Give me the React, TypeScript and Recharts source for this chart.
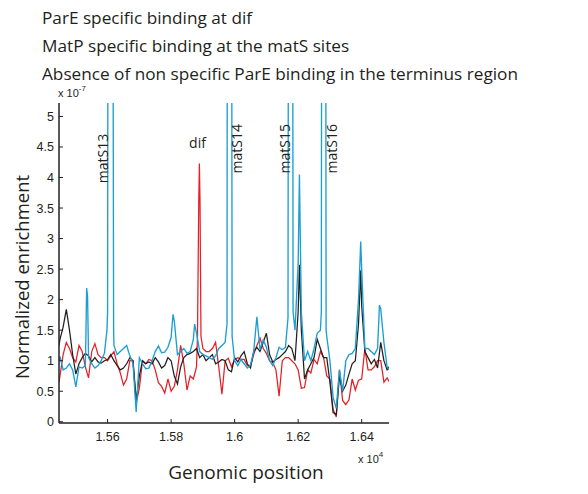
import React from 'react';
import { LineChart, Line, XAxis, YAxis, ReferenceDot } from 'recharts';

// genomic positions (x 10^4) sampled across the window
const positions = [
  1.5447,
  1.545, 1.546, 1.547, 1.548, 1.549, 1.55, 1.551, 1.552, 1.553, 1.554,
  1.555, 1.556, 1.557, 1.558, 1.559, 1.56, 1.561, 1.562, 1.563, 1.564,
  1.565, 1.566, 1.567, 1.568, 1.569, 1.57, 1.571, 1.572, 1.573, 1.574,
  1.575, 1.576, 1.577, 1.578, 1.579, 1.58, 1.581, 1.582, 1.583, 1.584,
  1.585, 1.586, 1.587, 1.588, 1.589, 1.59, 1.591, 1.592, 1.593, 1.594,
  1.595, 1.596, 1.597, 1.598, 1.599, 1.6, 1.601, 1.602, 1.603, 1.604,
  1.605, 1.606, 1.607, 1.608, 1.609, 1.61, 1.611, 1.612, 1.613, 1.614,
  1.615, 1.616, 1.617, 1.618, 1.619, 1.62, 1.621, 1.622, 1.623, 1.624,
  1.625, 1.626, 1.627, 1.628, 1.629, 1.63, 1.631, 1.632, 1.633, 1.634,
  1.635, 1.636, 1.637, 1.638, 1.639, 1.64, 1.641, 1.642, 1.643, 1.644,
  1.645, 1.646, 1.647, 1.648,
  1.6486,
];

// red trace (x 10^-7), null = sample hidden inside a peak listed below
const parEDif = [
  0.65,
  0.75, 1.1, 1.3, 1.2, 1.05, 0.98, 1.25, 1.15, 0.9, 0.72,
  1.15, 1.28, 1.1, 1.05, 1.05, 1.0, 1.08, 1.15, 0.95, 0.8,
  0.6, 0.7, 1.0, 1.0, 0.3, 0.55, 1.0, 0.95, 1.02, 1.0,
  0.85, 0.64, 0.58, 0.47, 0.7, 0.5, 0.58, 0.85, 1.25, 0.95,
  0.52, 0.75, 0.7, 0.9, null, 1.2, 1.15, 1.15, 1.2, 1.3,
  0.9, 0.45, 1.0, 1.04, 0.9, 1.02, 1.05, 1.02, 1.02, 0.92,
  0.92, 1.1, 1.25, 1.37, 1.2, 1.12, 1.0, 0.97, 0.85, 0.42,
  1.0, 1.05, 1.05, 1.0, 0.95, 0.85, 0.55, 0.56, 0.85, 0.8,
  1.02, 0.95, 1.15, 1.05, 0.75, 0.7, 0.2, 0.08, 0.85, 0.35,
  0.28, 0.36, 0.7, 0.52, 0.68, 0.7, 1.2, 0.85, 0.85, 0.9,
  1.0, 1.0, 0.65, 0.72,
  0.66,
];

// black trace
const parENonSpecific = [
  1.25,
  1.35, 1.55, 1.84, 1.5, 1.1, 0.78, 0.95, 1.05, 1.12, 1.08,
  0.98, 1.05, 0.98, 0.96, 1.0, 1.02, 1.1, 1.0, 0.92, 0.85,
  0.88, 0.95, 1.05, 1.0, 0.35, 0.75, 1.0, 0.95, 0.98, 0.95,
  1.05, 0.98, 0.88, 0.92, 1.05, 1.0, 0.75, 0.62, 0.9, 1.05,
  1.1, 1.12, 1.15, 1.2, 1.05, 1.1, 1.0, 1.05, 1.1, 0.95,
  0.98, 1.02, 1.0, 0.85, 0.82, 1.05, 0.98, 1.08, 1.15, 0.95,
  0.88, 1.15, 1.22, 1.15, 1.3, 1.45, 1.1, 0.98, 1.02, 1.05,
  1.1, 1.15, 1.25, 1.2, 1.0, 1.8, 1.5, 0.7, 0.85, 0.95,
  1.05, 1.35, 1.2, 1.05, 1.05, 0.65, 0.15, 0.12, 0.75, 0.5,
  0.6, 0.78, 0.95, 1.0, 1.6, 1.9, 1.15, 1.05, 0.95, 1.02,
  0.88, 1.3, 1.0, 0.85,
  0.9,
];

// blue trace
const matP = [
  1.0,
  1.07, 0.85, 0.88, 0.95, 0.85, 0.57, 0.9, 0.88, 0.92, 1.05,
  0.95, 0.88, 0.92, 1.0, 1.12, null, null, 1.25, 1.1, 1.15,
  1.2, 1.25, 1.08, 0.95, 0.16, 1.05, 0.95, 0.87, 0.88, 1.0,
  1.15, 1.24, 1.13, 1.14, 1.22, 1.38, 1.65, 1.1, 1.15, 1.2,
  1.12, 1.15, 1.35, 1.45, 1.15, 1.1, 1.08, 1.05, 1.02, 1.08,
  1.2, 1.25, 1.3, null, null, 1.0, 0.92, 1.02, 0.95, 0.88,
  0.93, 1.15, 1.72, 1.18, 1.34, 1.22, 1.0, 0.92, 1.05, 1.22,
  1.18, 1.22, null, null, 1.5, 2.6, 1.8, 1.0, 1.15, 1.0,
  1.2, 1.45, 1.5, null, 1.4, 1.0, 0.4, 0.22, 0.85, 0.5,
  1.0, 1.1, 1.12, 1.2, 2.0, 2.5, 1.2, 1.2, 1.15, 1.1,
  1.2, 1.85, 1.3, 0.9,
  0.85,
];

// narrow peaks between the samples: [position, enrichment]
const parEDifPeaks = [
  [1.5883, 1.4], [1.5887, 3.6], [1.5889, 4.23], [1.5891, 3.6], [1.5894, 1.4],
];
const parENonSpecificPeaks = [
  [1.6204, 2.57], [1.6397, 2.48],
];
const matPPeaks = [
  [1.5532, 1.5], [1.5534, 2.19], [1.5537, 2.05],
  [1.5598, 1.5], [1.56, 1.8], [1.5604, 20], [1.5612, 20], [1.5619, 1.5],
  [1.5806, 1.76], [1.5874, 1.6],
  [1.5976, 1.6], [1.5979, 20], [1.5988, 20], [1.5992, 1.4],
  [1.6168, 1.7], [1.6172, 20], [1.618, 20], [1.6184, 1.8],
  [1.6204, 4.05],
  [1.6273, 1.8], [1.6276, 20], [1.6284, 20], [1.6288, 1.5],
  [1.6397, 2.95], [1.6456, 1.91],
];

const xTicks = [1.56, 1.58, 1.6, 1.62, 1.64];
const yTicks = [0, 0.5, 1, 1.5, 2, 2.5, 3, 3.5, 4, 4.5, 5];

const titleLines = [
  'ParE specific binding at dif',
  'MatP specific binding at the matS sites',
  'Absence of non specific ParE binding in the terminus region',
];

const siteLabels = [
  { text: 'matS13', x: 1.5586, y: 4.31, vertical: true },
  { text: 'dif', x: 1.5883, y: 4.57, vertical: false },
  { text: 'matS14', x: 1.6008, y: 4.47, vertical: true },
  { text: 'matS15', x: 1.6159, y: 4.47, vertical: true },
  { text: 'matS16', x: 1.6307, y: 4.47, vertical: true },
];

const buildSeries = (values: (number | null)[], peaks: number[][]) =>
  positions
    .map((x, i) => ({ x, y: values[i] }))
    .filter((p) => p.y !== null)
    .concat(peaks.map(([x, y]) => ({ x, y })))
    .sort((a, b) => a.x - b.x);

const INK = '#231f20';
const SANS = '"Open Sans", "Noto Sans", sans-serif';
const TICK_FONT = '"Liberation Sans", Arial, Helvetica, sans-serif';
const X_DOMAIN: [number, number] = [1.5447, 1.6486];
const Y_DOMAIN: [number, number] = [-0.02, 5.22];

const LeftTick = ({ x, y, payload }: any) => (
  <g>
    <line x1={x} y1={y} x2={x + 4} y2={y} stroke={INK} strokeWidth={1} />
    <text x={x - 5} y={y + 4.5} textAnchor="end" fontSize={12.5} fontFamily={TICK_FONT} fill={INK}>
      {payload.value}
    </text>
  </g>
);

const RightTick = ({ x, y }: any) => (
  <line x1={x} y1={y} x2={x - 4} y2={y} stroke={INK} strokeWidth={1} />
);

const BottomTick = ({ x, y, payload }: any) => (
  <g>
    <line x1={x} y1={y} x2={x} y2={y - 4} stroke={INK} strokeWidth={1} />
    <text x={x} y={y + 18} textAnchor="middle" fontSize={12.5} fontFamily={TICK_FONT} fill={INK}>
      {payload.value}
    </text>
  </g>
);

const TopTick = ({ x, y }: any) => (
  <line x1={x} y1={y} x2={x} y2={y + 4} stroke={INK} strokeWidth={1} />
);

const siteShape = (label: { text: string; vertical: boolean }) => (props: any) => {
  const { cx, cy } = props;
  if (label.vertical) {
    return (
      <text
        transform={`translate(${cx + 5}, ${cy}) rotate(-90)`}
        textAnchor="middle"
        fontSize={14}
        fontFamily={SANS}
        fill={INK}
      >
        {label.text}
      </text>
    );
  }
  return (
    <text x={cx} y={cy + 5} textAnchor="middle" fontSize={14} fontFamily={SANS} fill={INK}>
      {label.text}
    </text>
  );
};

export default function App() {
  const red = buildSeries(parEDif, parEDifPeaks);
  const black = buildSeries(parENonSpecific, parENonSpecificPeaks);
  const blue = buildSeries(matP, matPPeaks);

  return (
    <div style={{ position: 'absolute', left: 0, top: 0, width: 588, height: 494, background: '#fff' }}>
      <LineChart width={588} height={494} margin={{ top: 103, right: 199, bottom: 41, left: 19 }}>
        <XAxis
          dataKey="x"
          type="number"
          domain={X_DOMAIN}
          ticks={xTicks}
          allowDataOverflow
          height={30}
          tickSize={0}
          tickMargin={0}
          tickLine={false}
          tick={<BottomTick />}
          axisLine={{ stroke: INK, strokeWidth: 1.5 }}
        />
        <XAxis
          xAxisId="top"
          orientation="top"
          dataKey="x"
          type="number"
          domain={X_DOMAIN}
          ticks={xTicks}
          allowDataOverflow
          height={0}
          tickSize={0}
          tickMargin={0}
          tickLine={false}
          tick={<TopTick />}
          axisLine={{ stroke: INK, strokeWidth: 1.5 }}
        />
        <YAxis
          type="number"
          domain={Y_DOMAIN}
          ticks={yTicks}
          allowDataOverflow
          width={40}
          tickSize={0}
          tickMargin={0}
          tickLine={false}
          tick={<LeftTick />}
          axisLine={{ stroke: INK, strokeWidth: 1.5 }}
        />
        <YAxis
          yAxisId="right"
          orientation="right"
          type="number"
          domain={Y_DOMAIN}
          ticks={yTicks}
          allowDataOverflow
          width={0}
          tickSize={0}
          tickMargin={0}
          tickLine={false}
          tick={<RightTick />}
          axisLine={{ stroke: INK, strokeWidth: 1.5 }}
        />
        <Line data={red} dataKey="y" type="linear" stroke="#e41f26" strokeWidth={1.25} dot={false} isAnimationActive={false} />
        <Line data={black} dataKey="y" type="linear" stroke={INK} strokeWidth={1.25} dot={false} isAnimationActive={false} />
        <Line data={blue} dataKey="y" type="linear" stroke="#1b9fd3" strokeWidth={1.35} dot={false} isAnimationActive={false} />
        {siteLabels.map((s) => (
          <ReferenceDot key={s.text} x={s.x} y={s.y} r={1} shape={siteShape(s)} />
        ))}
      </LineChart>
      <svg width={588} height={494} style={{ position: 'absolute', left: 0, top: 0, pointerEvents: 'none' }}>
        {titleLines.map((t, i) => (
          <text key={t} x={42} y={24 + i * 28} fontSize={17.2} fontFamily={SANS} fill={INK}>
            {t}
          </text>
        ))}
        <text x={58} y={97} fontSize={11} fontFamily={TICK_FONT} fill={INK}>
          x 10<tspan dy={-6} fontSize={8}>-7</tspan>
        </text>
        <text x={358} y={463} fontSize={11} fontFamily={TICK_FONT} fill={INK}>
          x 10<tspan dy={-6} fontSize={8}>4</tspan>
        </text>
        <text x={246} y={479} textAnchor="middle" fontSize={19} fontFamily={SANS} fill={INK}>
          Genomic position
        </text>
        <text transform="translate(29, 277) rotate(-90)" textAnchor="middle" fontSize={18.5} fontFamily={SANS} fill={INK}>
          Normalized enrichment
        </text>
      </svg>
    </div>
  );
}
